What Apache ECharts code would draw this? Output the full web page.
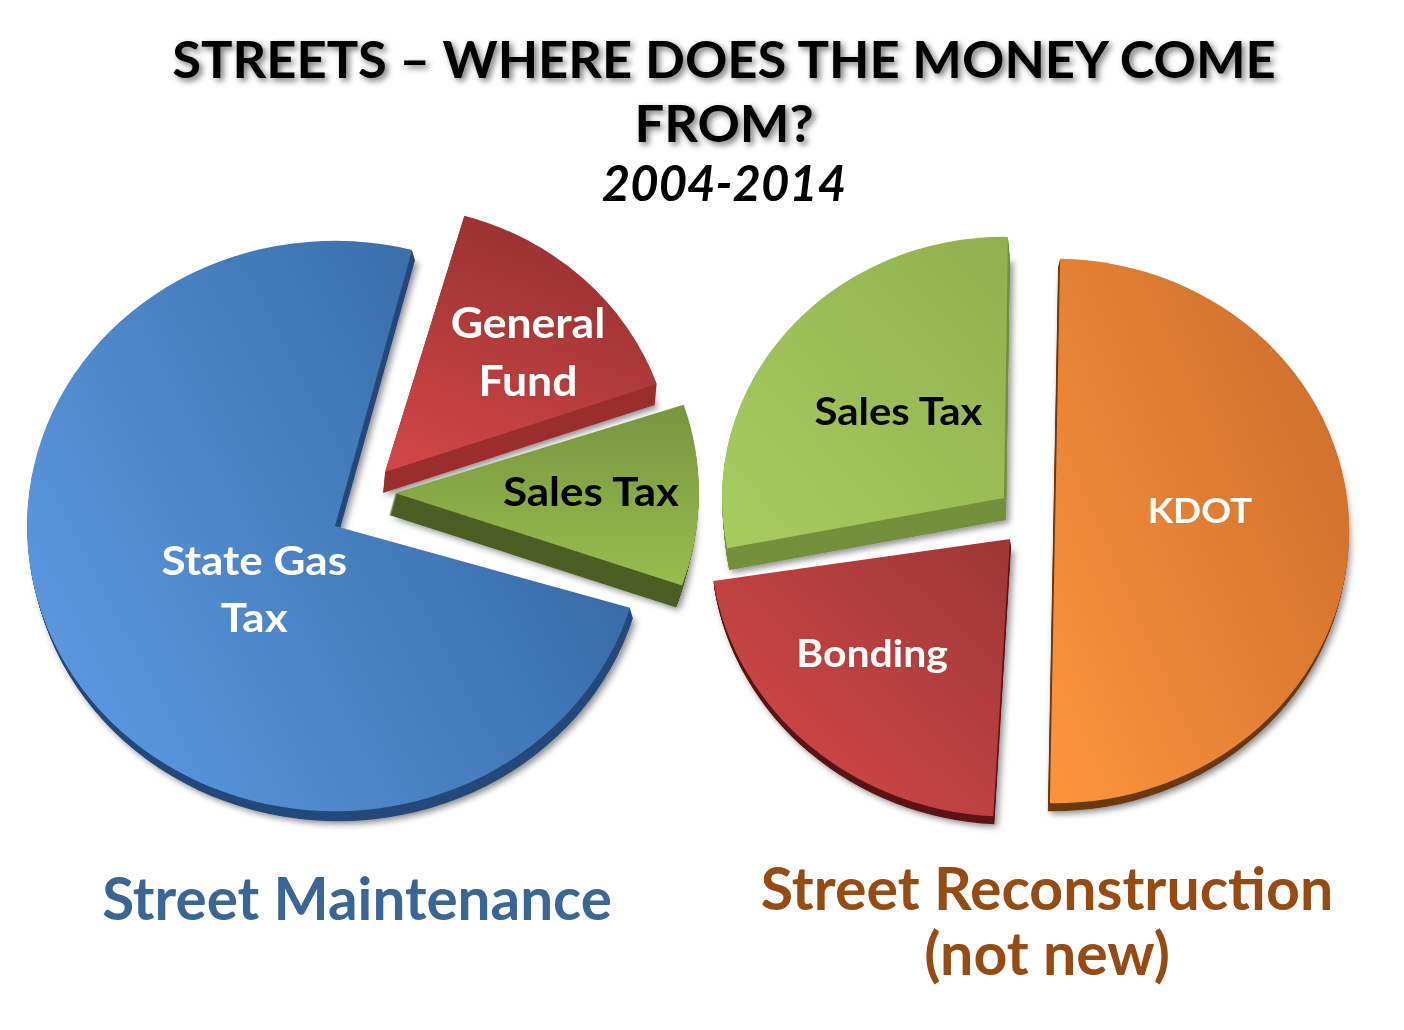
<!DOCTYPE html>
<html><head><meta charset="utf-8">
<style>
html,body{margin:0;padding:0;background:#fff;overflow:hidden}
#pies{position:absolute;left:0;top:0;width:1404px;height:1112px;transform:scaleY(0.926);transform-origin:0 0}
#text{position:absolute;left:0;top:0;width:1404px;height:1030px;pointer-events:none}
</style>
<script src="https://cdn.jsdelivr.net/npm/echarts@6/dist/echarts.min.js"></script>
</head><body>
<div id="pies"></div><div id="text"></div>
<script>
const maintenanceCategories = ['General\nFund', 'Sales Tax', 'State Gas\nTax'];
const maintenanceValues = [15.2, 10.4, 74.4];
const reconstructionCategories = ['KDOT', 'Bonding', 'Sales Tax'];
const reconstructionValues = [50, 21.7, 28.3];
const titleText = 'STREETS \u2013 WHERE DOES THE MONEY COME\nFROM?';
const subtitleText = '2004-2014';
const maintenanceTitle = 'Street Maintenance';
const reconstructionTitle = 'Street Reconstruction\n(not new)';

const Y = 0.926;
const grad = (x, y, x2, y2, a, b) => ({type:'linear', x, y, x2, y2, colorStops:[{offset:0,color:a},{offset:1,color:b}]});

// drawing spec of each slice; screen centre, radius, extrusion vector, colours, label nudge
const slices = [
 {cats:maintenanceCategories, vals:maintenanceValues, i:2, start:75.5, cx:335, cy:526, r:308, d:[3,10], fs:44,
  face:grad(0,.7,1,.2,'#5b98e0','#30639c'), side:'#24497a', text:'#fff', nudge:[56,-10]},
 {cats:maintenanceCategories, vals:maintenanceValues, i:0, start:74, cx:385, cy:472, r:288, d:[-2,21], fs:44.5,
  face:grad(.2,1,.6,0,'#d04646','#963030'), side:'#9b2e2e', text:'#fff', nudge:[42,-22]},
 {cats:maintenanceCategories, vals:maintenanceValues, i:1, start:73, cx:395, cy:493, r:304, d:[-6,22], fs:44,
  face:grad(.5,0,.5,1,'#789540','#98bd4e'), side:'#4d5e24', text:'#000', nudge:[41,-4]},
 {cats:reconstructionCategories, vals:reconstructionValues, i:2, start:89.2, cx:1004, cy:498, r:282, d:[2,22], fs:42,
  face:grad(0,1,1,0,'#a6cc60','#92b04e'), side:'#74903c', text:'#000', nudge:[5,-2]},
 {cats:reconstructionCategories, vals:reconstructionValues, i:1, start:86.8, cx:1010, cy:539, r:300, d:[1,8], fs:41,
  face:grad(.1,.9,1,0,'#d34848','#9d3636'), side:'#5c1414', text:'#fff', nudge:[-35,8]},
 {cats:reconstructionCategories, vals:reconstructionValues, i:0, start:89, cx:1055, cy:531, r:294, d:[-2,8], fs:37,
  face:grad(0,.9,1,.1,'#fc923c','#c96c2b'), side:'#6b3a10', text:'#fff', nudge:[-5,-23]}
];

function sliceSeries(s, face, dx, dy, extra, z) {
  return {
    type:'pie', silent:true, animation:false, clockwise:true, z,
    startAngle:s.start, radius:[0, s.r],
    center:[s.cx + dx, (s.cy + dy) / Y],
    label:{show:false}, labelLine:{show:false},
    data:s.cats.map((name, k) => ({
      name, value:s.vals[k],
      itemStyle: k === s.i ? Object.assign({color:face, borderWidth:0}, extra) : {color:'transparent', borderWidth:0, shadowBlur:0}
    }))
  };
}

const series = [];
let z = 2;
slices.forEach(s => {
  const n = Math.max(Math.abs(s.d[0]), Math.abs(s.d[1]));
  for (let step = n; step >= 1; step--) {
    const extra = step === n ? {shadowBlur:7, shadowColor:'rgba(0,0,0,0.45)', shadowOffsetX:3, shadowOffsetY:3} : {};
    series.push(sliceSeries(s, s.side, s.d[0]*step/n, s.d[1]*step/n, extra, z++));
  }
  const top = sliceSeries(s, s.face, 0, 0, {}, z++);
  top.label = {show:true, position:'inside', formatter:'{b}', fontFamily:'Lato', fontWeight:'bold', fontSize:s.fs, lineHeight:62,
    color:s.text, align:'center', verticalAlign:'middle'};
  top.labelLayout = {dx:s.nudge[0], dy:s.nudge[1] / Y};
  top.data.forEach((d, k) => { if (k !== s.i) d.label = {show:false}; });
  series.push(top);
});

const pieChart = echarts.init(document.getElementById('pies'), null, {renderer:'svg'});
pieChart.setOption({animation:false, backgroundColor:'transparent', series});

const textChart = echarts.init(document.getElementById('text'), null, {renderer:'svg'});
textChart.setOption({animation:false, backgroundColor:'transparent', title:[
  {text:titleText, left:719, top:20, textAlign:'center', textStyle:{fontFamily:'Lato', fontWeight:'bold', fontSize:52.5, lineHeight:64, color:'#000',
    textShadowColor:'rgba(0,0,0,0.55)', textShadowBlur:6, textShadowOffsetX:3, textShadowOffsetY:3}},
  {text:subtitleText, left:719, top:148, textAlign:'center', textStyle:{fontFamily:'Lato', fontStyle:'italic', fontWeight:'bold', fontSize:49, lineHeight:58, color:'#000'}},
  {text:maintenanceTitle, left:352, top:859, textAlign:'center', textStyle:{fontFamily:'Lato', fontWeight:'bold', fontSize:58.4, lineHeight:66, color:'#3a6595'}},
  {text:reconstructionTitle, left:1042, top:850, textAlign:'center', textStyle:{fontFamily:'Lato', fontWeight:'bold', fontSize:59, lineHeight:65, color:'#964b13'}}
]});
</script>
</body></html>
